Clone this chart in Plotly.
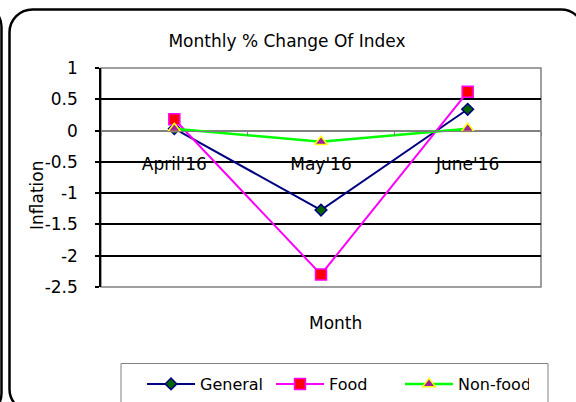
import plotly.graph_objects as go

# ---- data ----
months = ["April'16", "May'16", "June'16"]
general = [0.03, -1.27, 0.34]
food = [0.18, -2.30, 0.62]
nonfood = [0.03, -0.18, 0.03]
y_ticks = [-2.5, -2, -1.5, -1, -0.5, 0, 0.5, 1]
y_tick_text = ["-2.5", "-2", "-1.5", "-1", "-0.5", "0", "0.5", "1"]
title_text = "Monthly % Change Of Index"
x_title = "Month"
y_title = "Inflation"

W, H = 576, 402
L, R, T, B = 101, 35, 68, 115
PW = W - L - R
PH = H - T - B
YMIN, YMAX = -2.5, 1.0
FONT = "DejaVu Sans"


def px(x):
    return (x - L) / PW


def py(y):
    return (H - B - y) / PH


def rounded(x0, y0, x1, y1, r):
    k = 0.5523 * r
    pts = [
        ("M", [(x0 + r, y0)]),
        ("L", [(x1 - r, y0)]),
        ("C", [(x1 - r + k, y0), (x1, y0 + r - k), (x1, y0 + r)]),
        ("L", [(x1, y1 - r)]),
        ("C", [(x1, y1 - r + k), (x1 - r + k, y1), (x1 - r, y1)]),
        ("L", [(x0 + r, y1)]),
        ("C", [(x0 + r - k, y1), (x0, y1 - r + k), (x0, y1 - r)]),
        ("L", [(x0, y0 + r)]),
        ("C", [(x0, y0 + r - k), (x0 + r - k, y0), (x0 + r, y0)]),
    ]
    s = ""
    for cmd, ps in pts:
        s += cmd + " ".join(f"{px(a):.5f},{py(b):.5f}" for a, b in ps)
    return s + " Z"


fig = go.Figure()
fig.add_trace(go.Scatter(
    x=months, y=general, name="General", mode="lines+markers",
    line=dict(color="#000080", width=2),
    marker=dict(symbol="diamond", size=9, color="#006400",
                line=dict(color="#000080", width=1.5)),
))
fig.add_trace(go.Scatter(
    x=months, y=food, name="Food", mode="lines+markers",
    line=dict(color="#FF00FF", width=2),
    marker=dict(symbol="square", size=11, color="#FF0000",
                line=dict(color="#FF00FF", width=1.5)),
))
fig.add_trace(go.Scatter(
    x=months, y=nonfood, name="Non-food", mode="lines+markers",
    line=dict(color="#00FF00", width=2.5),
    marker=dict(symbol="triangle-up", size=11, color="#A020A0",
                line=dict(color="#FFFF00", width=1.5)),
))

zero_pos = (0 - YMIN) / (YMAX - YMIN)

fig.update_layout(
    width=W, height=H,
    margin=dict(l=L, r=R, t=T, b=B, autoexpand=False),
    paper_bgcolor="white", plot_bgcolor="white",
    font=dict(family=FONT, size=17, color="black"),
    showlegend=True,
    legend=dict(
        orientation="h", x=px(142), xanchor="left", y=py(384), yanchor="middle",
        bgcolor="rgba(0,0,0,0)", borderwidth=0,
        itemwidth=48, entrywidth=66, entrywidthmode="pixels",
        font=dict(family=FONT, size=16, color="black"),
        itemclick=False,
    ),
    xaxis=dict(
        type="category", range=[-0.5, 2.5],
        anchor="free", position=zero_pos,
        showline=True, linecolor="#808080", linewidth=1,
        ticks="outside", tickson="boundaries", ticklen=4, tickcolor="#808080",
        ticklabelstandoff=18,
        showgrid=False, zeroline=False,
        tickfont=dict(family=FONT, size=17, color="black"),
    ),
    yaxis=dict(
        range=[YMIN, YMAX], tickvals=y_ticks, ticktext=y_tick_text,
        showline=True, linecolor="black", linewidth=1.5,
        ticks="outside", ticklen=4, tickcolor="black", tickwidth=1.5,
        ticklabelstandoff=14,
        showgrid=True, gridcolor="black", gridwidth=1.5,
        zeroline=True, zerolinecolor="#808080", zerolinewidth=1,
        tickfont=dict(family=FONT, size=17, color="black"),
    ),
    title=dict(
        text=title_text, x=px(287), xref="paper", xanchor="center",
        y=1 - 41 / H, yref="container", yanchor="middle",
        font=dict(family=FONT, size=17, color="black"),
    ),
)

fig.add_annotation(text=x_title, xref="paper", yref="paper",
                   x=px(335), y=py(323), showarrow=False,
                   xanchor="center", yanchor="middle",
                   font=dict(family=FONT, size=17, color="black"))
fig.add_annotation(text=y_title, xref="paper", yref="paper",
                   x=px(37), y=py(196), showarrow=False, textangle=-90,
                   xanchor="center", yanchor="middle",
                   font=dict(family=FONT, size=17, color="black"))

# plot area border (grey), under gridlines
fig.add_shape(type="rect", xref="paper", yref="paper", x0=0, y0=0, x1=1, y1=1,
              line=dict(color="#808080", width=1.5), layer="below")
# legend box
fig.add_shape(type="rect", xref="paper", yref="paper",
              x0=px(121), x1=px(548), y0=py(363.5), y1=py(410),
              line=dict(color="#808080", width=1))
# outer rounded chart border
fig.add_shape(type="path", xref="paper", yref="paper",
              path=rounded(9.5, 9.5, 584, 412, 23),
              line=dict(color="black", width=2.5))
# neighbouring chart's border at far left
fig.add_shape(type="path", xref="paper", yref="paper",
              path=rounded(-200, 4, 1.5, 416, 23),
              line=dict(color="black", width=2.5))

fig.write_html("out.html", config={"displayModeBar": False},
               post_script="document.body.style.margin='0';")
